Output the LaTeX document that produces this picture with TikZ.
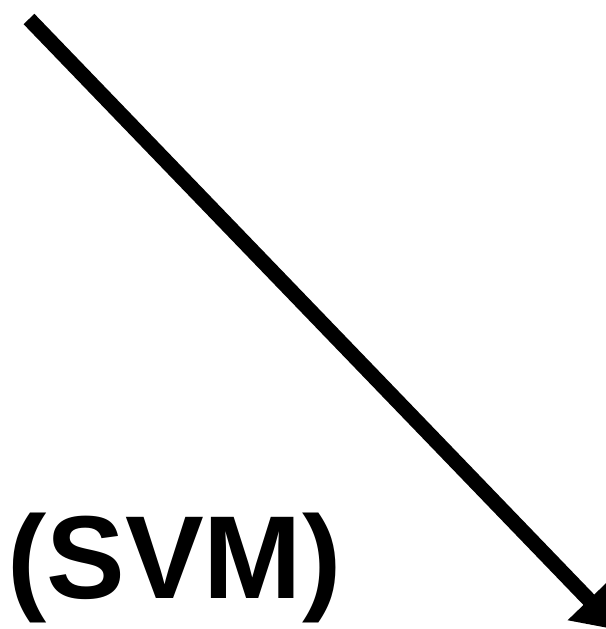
\documentclass[tikz,border=0pt]{standalone}
\usepackage{fontspec}
\setmainfont{Liberation Sans}
\usetikzlibrary{arrows.meta}
\begin{document}
\begin{tikzpicture}[x=1pt,y=-1pt,
  arrowline/.style={line width=15pt,-{Triangle[length=42pt,width=56pt]}},
  label/.style={font=\fontsize{118}{124}\selectfont\bfseries,inner sep=0pt}]
\useasboundingbox (0,0) rectangle (605,629);
\coordinate (s) at (29,19);
\coordinate (e) at (618,630);
\draw[arrowline] (s) -- (e);
\node[label,anchor=base west] (svm) at (7,598) {(SVM)};
\end{tikzpicture}
\end{document}
